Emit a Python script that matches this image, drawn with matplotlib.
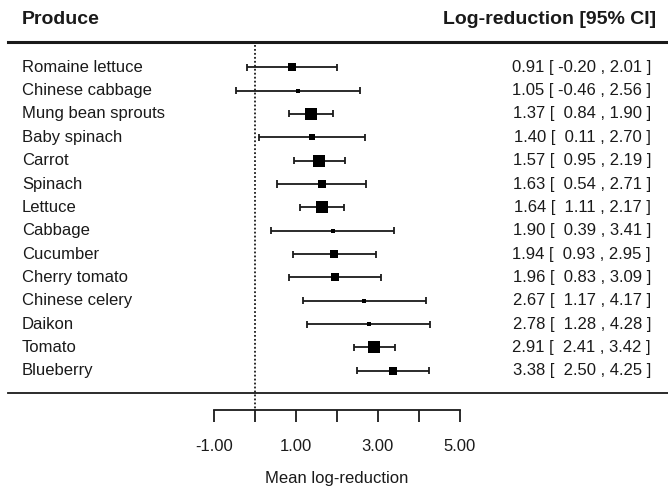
import numpy as np
import matplotlib.pyplot as plt

plt.rcParams['font.family'] = ['Liberation Sans', 'DejaVu Sans']

produce = ['Romaine lettuce', 'Chinese cabbage', 'Mung bean sprouts', 'Baby spinach',
           'Carrot', 'Spinach', 'Lettuce', 'Cabbage', 'Cucumber', 'Cherry tomato',
           'Chinese celery', 'Daikon', 'Tomato', 'Blueberry']
mean = [0.91, 1.05, 1.37, 1.40, 1.57, 1.63, 1.64, 1.90, 1.94, 1.96, 2.67, 2.78, 2.91, 3.38]
lower = [-0.20, -0.46, 0.84, 0.11, 0.95, 0.54, 1.11, 0.39, 0.93, 0.83, 1.17, 1.28, 2.41, 2.50]
upper = [2.01, 2.56, 1.90, 2.70, 2.19, 2.71, 2.17, 3.41, 2.95, 3.09, 4.17, 4.28, 3.42, 4.25]
# relative study weight, shown as box size (px)
weight = [6.7, 4.0, 10.7, 5.3, 10.0, 6.7, 11.0, 4.0, 6.7, 6.7, 4.0, 4.0, 10.7, 7.3]
ticks = [-1, 0, 1, 2, 3, 4, 5]
tick_labels = ['-1.00', '', '1.00', '', '3.00', '', '5.00']

W, H = 668, 490
x0_px, unit_px = 255, 40.9
row0_px, row_px = 67.3, 23.34


def py(px):
    # figure pixel row -> data y
    return (px - row0_px) / row_px


fig = plt.figure(figsize=(W / 100, H / 100), dpi=100)
ax = fig.add_axes([0, 0, 1, 1])
ax.set_xlim(-x0_px / unit_px, (W - x0_px) / unit_px)
ax.set_ylim(py(H), py(0))
ax.axis('off')

ink = '#1a1a1a'
rows = np.arange(len(produce))
to_fig = ax.get_yaxis_transform()  # x in axes fraction, y in data
fs = 12

ax.hlines(rows, lower, upper, color=ink, lw=1.3)
cap = 0.15
ax.vlines(lower, rows - cap, rows + cap, color=ink, lw=1.3)
ax.vlines(upper, rows - cap, rows + cap, color=ink, lw=1.3)
for r, m, w in zip(rows, mean, weight):
    ax.plot(m, r, 's', color='black', ms=w / 1.389 * 1.15, mec='black', mew=0)

for r, name, m, lo, hi in zip(rows, produce, mean, lower, upper):
    ax.text(22 / W, r, name, transform=to_fig, ha='left', va='center',
            fontsize=fs, color=ink)
    ax.text(651 / W, r, f'{m:.2f} [{lo:6.2f} , {hi:.2f} ]', transform=to_fig,
            ha='right', va='center', fontsize=fs, color=ink)

# header
ax.text(22 / W, py(19), 'Produce', transform=to_fig, ha='left', va='center',
        fontsize=14, fontweight='bold', color=ink)
ax.text(656 / W, py(19), 'Log-reduction [95% CI]', transform=to_fig, ha='right',
        va='center', fontsize=14, fontweight='bold', color=ink)
ax.axhline(py(42.5), xmin=8 / W, xmax=1, color=ink, lw=2.2)
ax.axhline(py(393), xmin=8 / W, xmax=1, color=ink, lw=1.3)

# reference line at zero
ax.plot([0, 0], [py(45), py(410)], color=ink, lw=1.3, ls=(0, (1, 1.2)))

# x axis
ax.plot([ticks[0], ticks[-1]], [py(410), py(410)], color=ink, lw=1.3)
ax.vlines(ticks, py(409.5), py(422), color=ink, lw=1.3)
for t, lab in zip(ticks, tick_labels):
    if lab:
        ax.text(t, py(446), lab, ha='center', va='center', fontsize=fs, color=ink)
ax.text(2, py(478), 'Mean log-reduction', ha='center', va='center',
        fontsize=fs, color=ink)

fig.savefig('out.png', dpi=100)
